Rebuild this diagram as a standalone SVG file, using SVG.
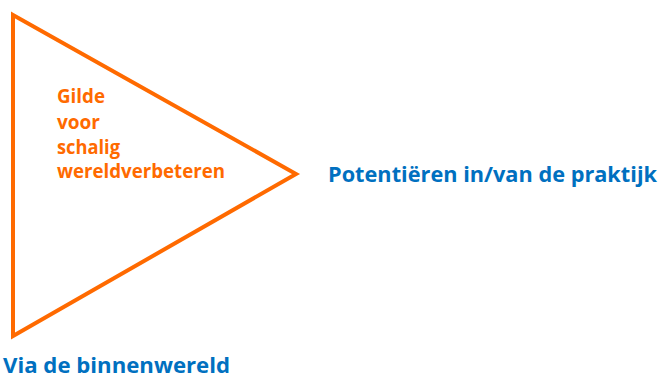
<svg xmlns="http://www.w3.org/2000/svg" width="661" height="378" viewBox="0 0 661 378">
<style>
.tri{fill:none;stroke:#FF6A00;stroke-width:4;stroke-linejoin:miter}
.o{font-family:"Open Sans","Liberation Sans",sans-serif;font-weight:bold;font-size:19px;fill:#FF6A00}
.b{font-family:"Open Sans","Liberation Sans",sans-serif;font-weight:bold;font-size:21px;fill:#0070C0}
</style>
<rect width="661" height="378" fill="#fff"/>
<g id="triangle">
<polygon class="tri" points="13,15 296,174 13,336"/>
<text class="o" x="57" y="103" textLength="48" lengthAdjust="spacingAndGlyphs">Gilde</text>
<text class="o" x="57" y="129" textLength="43" lengthAdjust="spacingAndGlyphs">voor</text>
<text class="o" x="57" y="154" textLength="63" lengthAdjust="spacingAndGlyphs">schalig</text>
<text class="o" x="57" y="178" textLength="168" lengthAdjust="spacingAndGlyphs">wereldverbeteren</text>
</g>
<g id="praktijk">
<text class="b" x="328" y="182" textLength="329" lengthAdjust="spacingAndGlyphs">Potentiëren in/van de praktijk</text>
</g>
<g id="binnenwereld">
<text class="b" x="3" y="373" textLength="227" lengthAdjust="spacingAndGlyphs">Via de binnenwereld</text>
</g>
</svg>
